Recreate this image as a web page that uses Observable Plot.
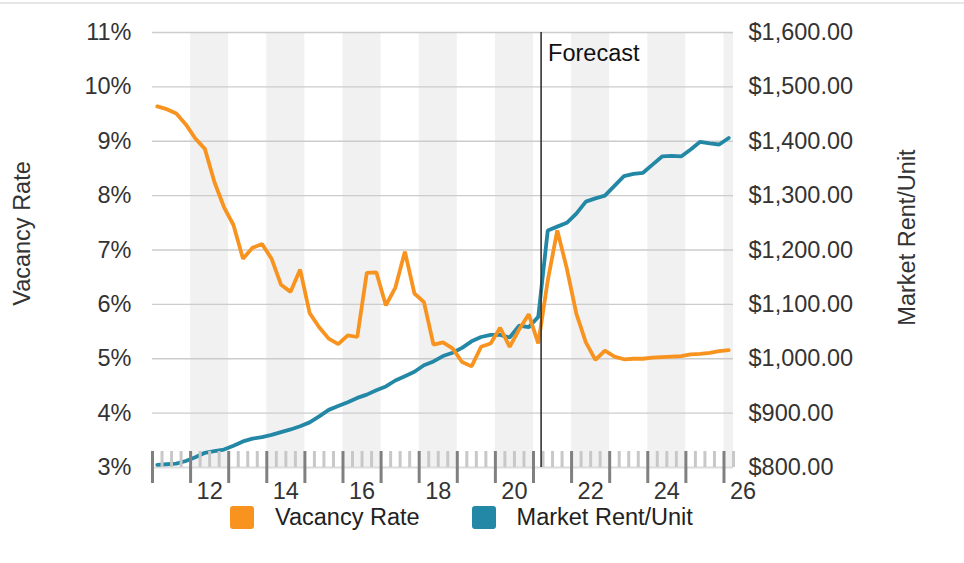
<!DOCTYPE html>
<html><head><meta charset="utf-8">
<script src="https://cdn.jsdelivr.net/npm/d3@7"></script>
<script src="https://cdn.jsdelivr.net/npm/@observablehq/plot@0.6"></script>
<style>
body{margin:0;background:#fff;font-family:"Liberation Sans",Arial,Helvetica,sans-serif;}
#wrap{position:relative;width:964px;height:563px;overflow:hidden;}
#topline{position:absolute;left:0;top:2px;width:964px;height:2px;background:#e6e6e6;}
#chart{position:absolute;left:0;top:0;}
#legend{position:absolute;left:230px;top:506px;display:flex;align-items:center;font-size:23.5px;color:#222;line-height:23px;}
.item{display:flex;align-items:center;}
.sw{width:24px;height:23px;border-radius:3px;display:inline-block;margin-right:21px;}
</style></head><body>
<div id="wrap"><div id="topline"></div><div id="chart"></div><div id="legend"></div></div>
<script>
const quarters = [
 "2011Q1","2011Q2","2011Q3","2011Q4","2012Q1","2012Q2","2012Q3","2012Q4",
 "2013Q1","2013Q2","2013Q3","2013Q4","2014Q1","2014Q2","2014Q3","2014Q4",
 "2015Q1","2015Q2","2015Q3","2015Q4","2016Q1","2016Q2","2016Q3","2016Q4",
 "2017Q1","2017Q2","2017Q3","2017Q4","2018Q1","2018Q2","2018Q3","2018Q4",
 "2019Q1","2019Q2","2019Q3","2019Q4","2020Q1","2020Q2","2020Q3","2020Q4",
 "2021Q1","2021Q2","2021Q3","2021Q4","2022Q1","2022Q2","2022Q3","2022Q4",
 "2023Q1","2023Q2","2023Q3","2023Q4","2024Q1","2024Q2","2024Q3","2024Q4",
 "2025Q1","2025Q2","2025Q3","2025Q4","2026Q1"
];
const vacancyRate = [
 9.64,9.59,9.51,9.31,9.05,8.86,8.25,7.79,
 7.46,6.84,7.04,7.11,6.84,6.36,6.23,6.64,
 5.84,5.58,5.37,5.27,5.43,5.40,6.58,6.59,
 5.98,6.31,6.97,6.20,6.04,5.26,5.30,5.19,
 4.94,4.86,5.22,5.28,5.57,5.22,5.54,5.82,
 5.28,6.44,7.36,6.66,5.83,5.30,4.98,5.15,
 5.04,4.99,5.00,5.00,5.02,5.03,5.04,5.05,
 5.08,5.09,5.11,5.14,5.16
];
const marketRent = [
 805,806,807,812,819,827,830,833,
 840,848,853,856,860,865,870,876,
 883,894,906,913,920,928,934,942,
 949,960,968,976,988,995,1005,1011,
 1020,1032,1040,1044,1044,1039,1061,1058,
 1077,1236,1243,1250,1267,1289,1295,1300,
 1318,1336,1340,1342,1357,1372,1373,1372,
 1385,1399,1396,1394,1406
];
const vacancyTicks = [3,4,5,6,7,8,9,10,11];
const rentTicks = [800,900,1000,1100,1200,1300,1400,1500,1600];
const yearLabels = [2012,2014,2016,2018,2020,2022,2024,2026];
const years = [2011,2012,2013,2014,2015,2016,2017,2018,2019,2020,2021,2022,2023,2024,2025,2026];
const shadedYears = [2012,2014,2016,2018,2020,2022,2024,2026];
const forecastStart = 2021.2;
const seriesNames = ["Vacancy Rate","Market Rent/Unit"];
const colors = ["#f7931e","#2387a6"];

const xDomain = [2011, 2026.25];
const rentToY = r => 3 + (r - 800) / 100;
const qx = q => { const [y, n] = q.split("Q"); return +y + (n - 1) / 4 + 0.125; };
const data = quarters.map((q, i) => ({x: qx(q), vac: vacancyRate[i], rent: marketRent[i]}));
const minorTicks = [];
years.forEach(y => [0.25, 0.5, 0.75].forEach(f => { if (y + f <= xDomain[1]) minorTicks.push(y + f); }));

const font = '"Liberation Sans",Arial,Helvetica,sans-serif';
const fs = 23.5;
const chart = Plot.plot({
  width: 964, height: 502,
  marginLeft: 152, marginRight: 231, marginTop: 32, marginBottom: 35,
  style: {fontFamily: font, fontSize: fs + "px", color: "#333", background: "transparent", overflow: "visible"},
  x: {domain: xDomain, axis: null},
  y: {domain: [3, 11], axis: null},
  marks: [
    Plot.rect(shadedYears, {x1: d => d, x2: d => d + 1, y1: 3, y2: 11, fill: "#f1f1f1", clip: true}),
    Plot.ruleY(vacancyTicks.filter(d => d > 3), {y: d => d, stroke: "#cccccc", strokeWidth: 1.3}),
    Plot.ruleY([3], {y: d => d, stroke: "#dcdcdc", strokeWidth: 2}),
    Plot.line(data, {x: "x", y: d => rentToY(d.rent), stroke: colors[1], strokeWidth: 3.8, strokeLinejoin: "miter"}),
    Plot.line(data, {x: "x", y: "vac", stroke: colors[0], strokeWidth: 3.8, strokeLinejoin: "miter"}),
    Plot.ruleX(minorTicks, {x: d => d, y1: 3, y2: 3, insetTop: -16, stroke: "#c8c8c8", strokeWidth: 3}),
    Plot.ruleX(years, {x: d => d, y1: 3, y2: 3, insetTop: -16, insetBottom: -16, stroke: "#808080", strokeWidth: 3}),
    Plot.ruleX([forecastStart], {x: d => d, y1: 3, y2: 11, stroke: "#333", strokeWidth: 1.6}),
    Plot.text(["Forecast"], {x: forecastStart, y: 11, text: d => d, textAnchor: "start", lineAnchor: "top", dx: 7, dy: 12, fontSize: fs, fill: "#111"}),
    Plot.text(vacancyTicks, {y: d => d, text: d => d + "%", frameAnchor: "left", textAnchor: "end", dx: -21, fontSize: fs, fill: "#333"}),
    Plot.text(rentTicks, {y: d => rentToY(d), text: d => d3.format("$,.2f")(d), frameAnchor: "right", textAnchor: "start", dx: 15, fontSize: fs, fill: "#333"}),
    Plot.text(yearLabels, {x: d => d + 0.5, text: d => String(d % 100), frameAnchor: "bottom", lineAnchor: "top", dy: 15, fontSize: fs, fill: "#333"}),
    Plot.text([seriesNames[0]], {text: d => d, frameAnchor: "left", textAnchor: "middle", rotate: -90, dx: -130, dy: -16.5, fontSize: fs, fill: "#333"}),
    Plot.text([seriesNames[1]], {text: d => d, frameAnchor: "right", textAnchor: "middle", rotate: -90, dx: 174, dy: -12.5, fontSize: fs, fill: "#333"})
  ]
});
document.getElementById("chart").appendChild(chart);

const legend = document.getElementById("legend");
seriesNames.forEach((name, i) => {
  const it = document.createElement("div");
  it.className = "item";
  if (i > 0) it.style.marginLeft = "52px";
  const sw = document.createElement("span");
  sw.className = "sw";
  sw.style.background = colors[i];
  it.appendChild(sw);
  it.appendChild(document.createTextNode(name));
  legend.appendChild(it);
});
</script>
</body></html>
